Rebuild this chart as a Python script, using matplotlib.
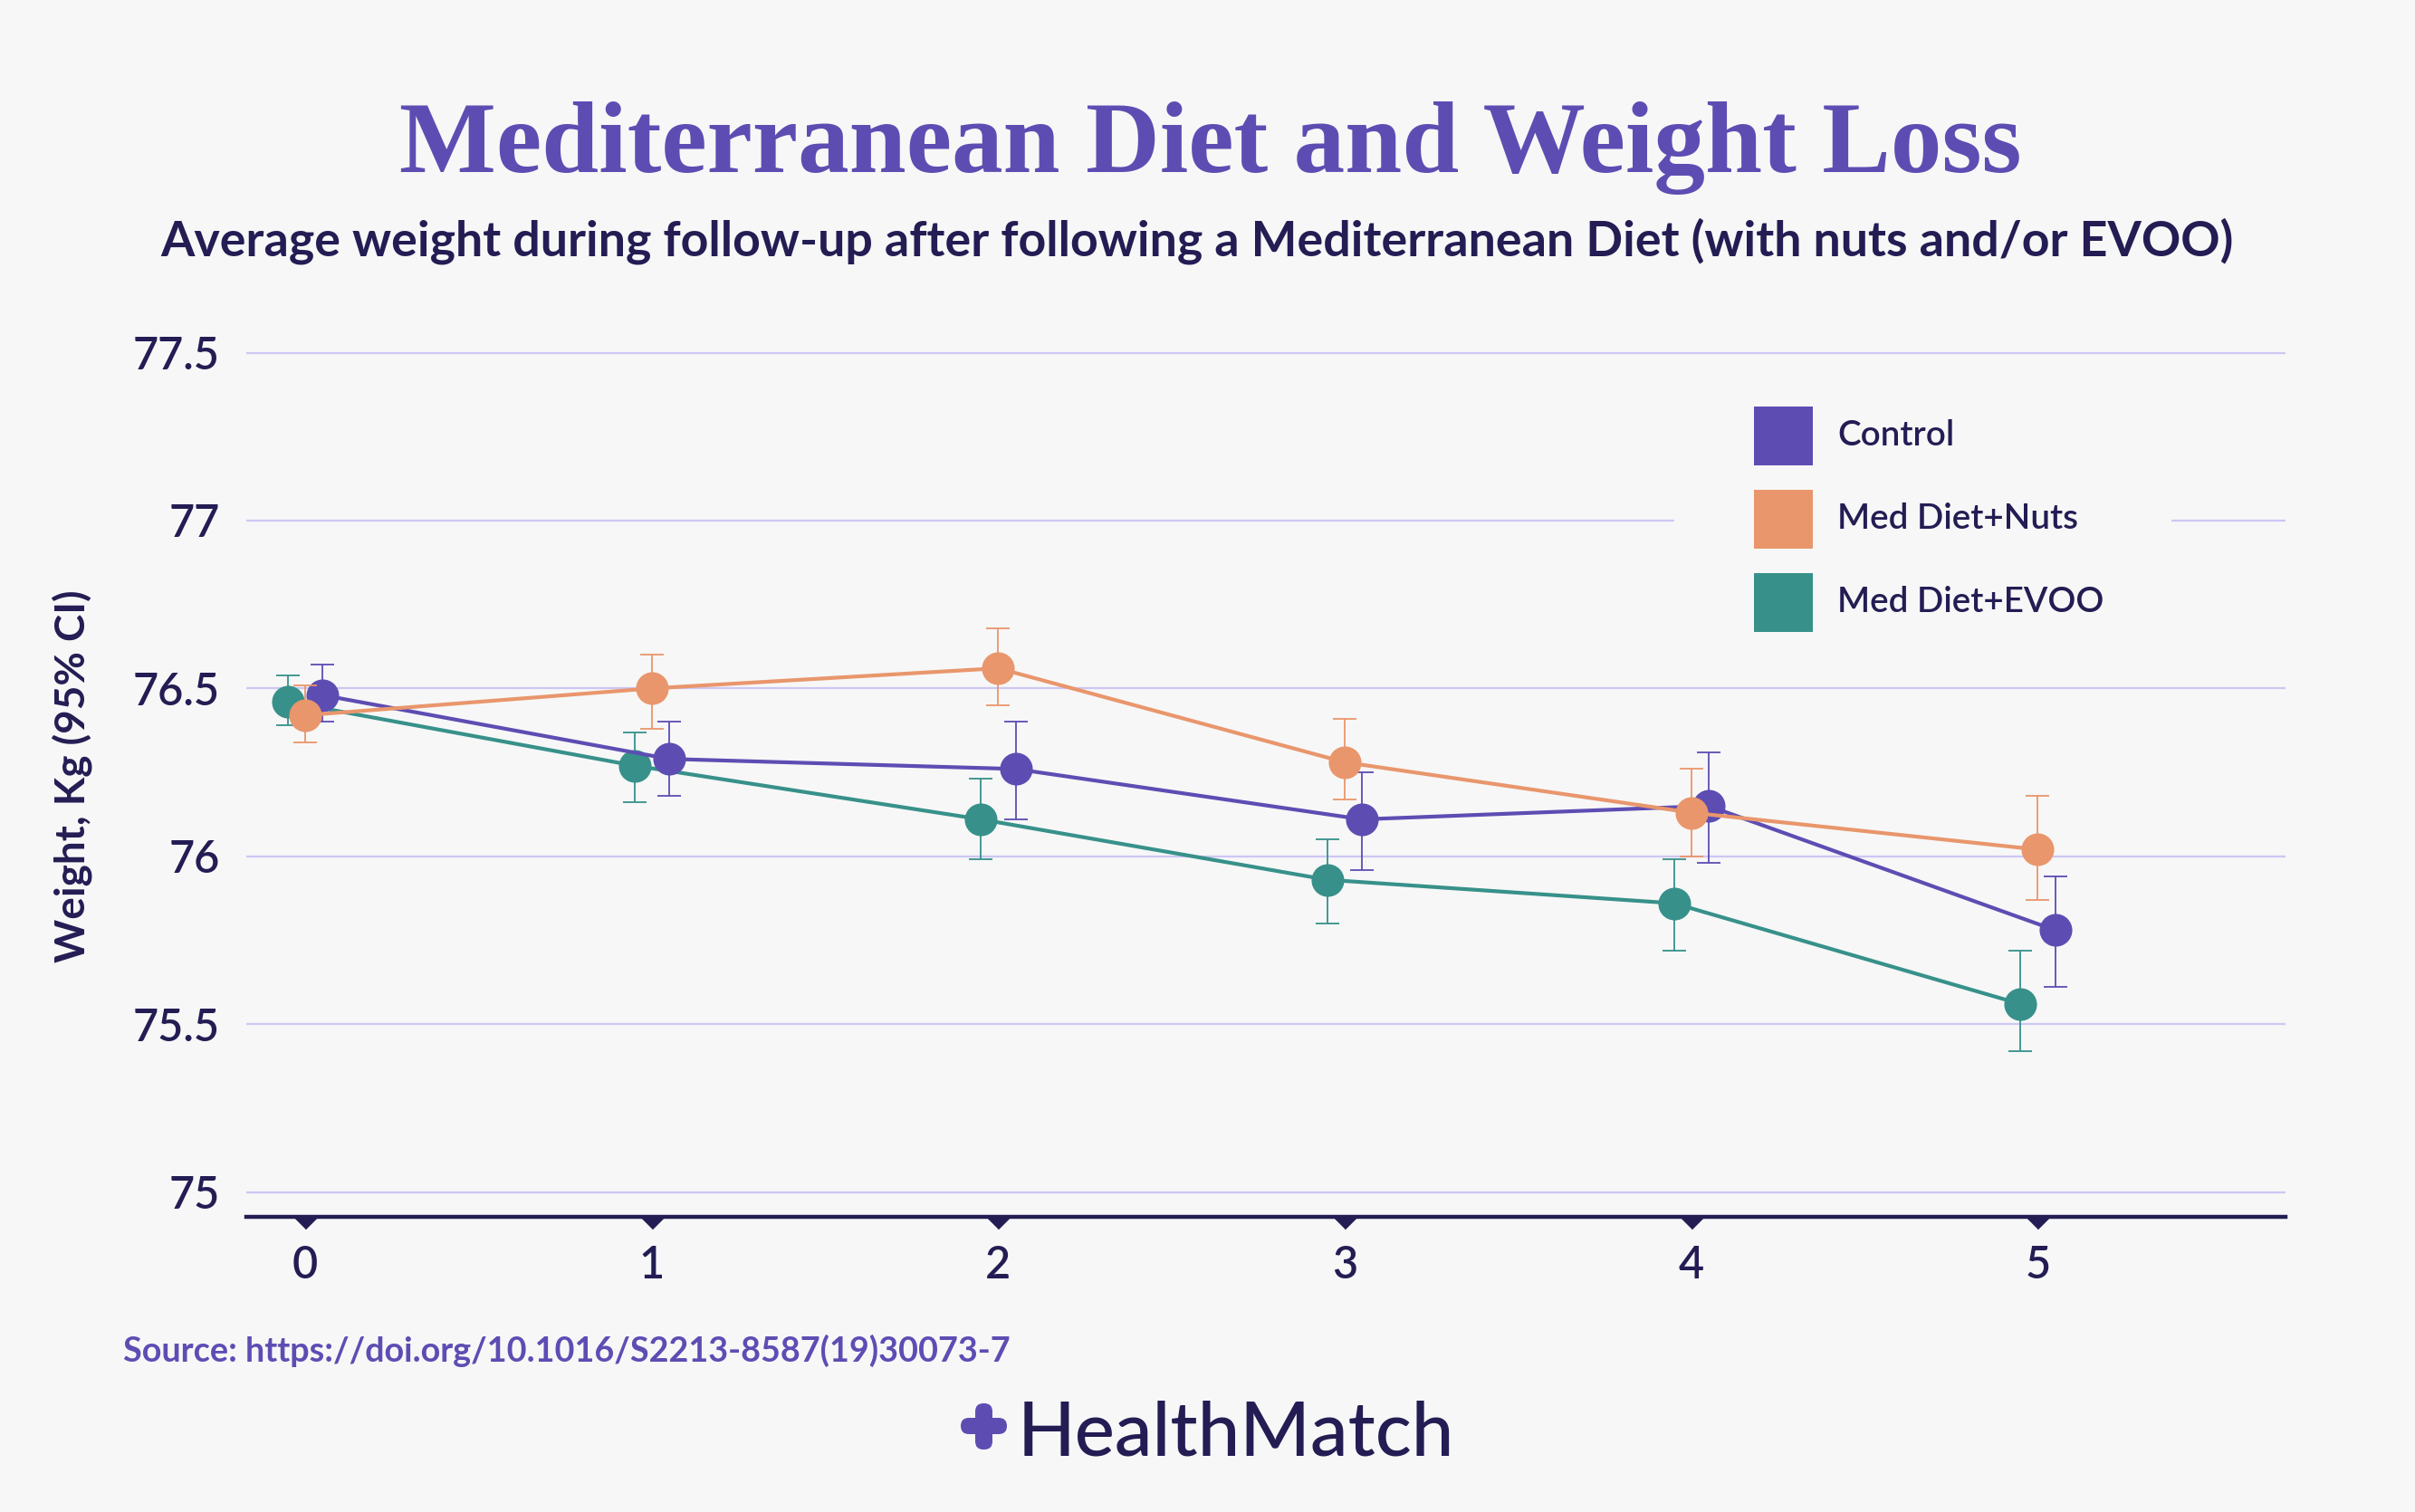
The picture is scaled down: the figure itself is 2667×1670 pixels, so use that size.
import numpy as np
import matplotlib.pyplot as plt
from matplotlib.patches import FancyBboxPatch, Rectangle
from matplotlib.transforms import IdentityTransform, blended_transform_factory

# Data (years of follow-up, weight in kg with 95% CI)
years = [0, 1, 2, 3, 4, 5]
series_names = ['Control', 'Med Diet+Nuts', 'Med Diet+EVOO']

control_mean = [76.48, 76.29, 76.26, 76.11, 76.15, 75.78]
control_lo = [76.40, 76.18, 76.11, 75.96, 75.98, 75.61]
control_hi = [76.57, 76.40, 76.40, 76.25, 76.31, 75.94]

nuts_mean = [76.42, 76.50, 76.56, 76.28, 76.13, 76.02]
nuts_lo = [76.34, 76.38, 76.45, 76.17, 76.00, 75.87]
nuts_hi = [76.51, 76.60, 76.68, 76.41, 76.26, 76.18]

evoo_mean = [76.46, 76.27, 76.11, 75.93, 75.86, 75.56]
evoo_lo = [76.39, 76.16, 75.99, 75.80, 75.72, 75.42]
evoo_hi = [76.54, 76.37, 76.23, 76.05, 75.99, 75.72]

y_ticks = [75, 75.5, 76, 76.5, 77, 77.5]
y_ticklabels = ['75', '75.5', '76', '76.5', '77', '77.5']

# Colours
BG = '#f7f7f7'
NAVY = '#231d54'
PURPLE = '#5d4db3'
ORANGE = '#e9966c'
TEAL = '#37918a'
GRID = '#cdc7f4'
series_colors = [PURPLE, ORANGE, TEAL]

W, H = 2667, 1670
fig = plt.figure(figsize=(W / 100, H / 100), dpi=100, facecolor=BG)

# axes placed in pixel terms
left, right, bottom_px, top_px = 272, 2524, 1344, 371
ax = fig.add_axes([left / W, 1 - bottom_px / H, (right - left) / W, (bottom_px - top_px) / H])
ax.set_facecolor(BG)

groups = [
    (evoo_mean, evoo_lo, evoo_hi, TEAL, -0.05),
    (control_mean, control_lo, control_hi, PURPLE, 0.05),
    (nuts_mean, nuts_lo, nuts_hi, ORANGE, 0.0),
]
for z, (m, lo, hi, col, off) in enumerate(groups):
    m = np.array(m)
    x = np.array(years) + off
    err = [m - np.array(lo), np.array(hi) - m]
    ax.errorbar(x, m, yerr=err, fmt='none', ecolor=col, elinewidth=1.3,
                capsize=9.5, capthick=1.3, zorder=3 + z)
    ax.plot(x, m, color=col, lw=3, marker='o', markersize=26,
            markeredgewidth=0, zorder=3 + z)

ax.set_xlim(-0.17, 5.715)
ax.set_ylim(74.926, 77.55)
ax.set_yticks(y_ticks)
ax.set_yticklabels(y_ticklabels)
ax.set_xticks(years)
ax.grid(axis='y', color=GRID, lw=1.6, zorder=0)
ax.set_axisbelow(True)
for s in ['top', 'right', 'left']:
    ax.spines[s].set_visible(False)
ax.spines['bottom'].set_color(NAVY)
ax.spines['bottom'].set_linewidth(3.2)
ax.tick_params(axis='both', length=0, colors=NAVY)
ax.tick_params(axis='y', pad=21)
ax.tick_params(axis='x', pad=22)
for lab in ax.get_xticklabels() + ax.get_yticklabels():
    lab.set_fontfamily('Lato')
    lab.set_fontsize(35)
    lab.set_fontweight('semibold')

# small triangles under the axis line
tri = blended_transform_factory(ax.transData, ax.transAxes)
ax.plot(years, [0] * len(years), transform=tri, linestyle='none',
        marker=[(-1, 0), (1, 0), (0, -1)], markersize=19, color=NAVY,
        clip_on=False, zorder=6)

ax.text((80 - left) / (right - left), 0.5, 'Weight, Kg (95% CI)', transform=ax.transAxes,
        rotation=90, ha='center', va='center', fontsize=33, fontweight='bold',
        family='Lato', color=NAVY)

# legend: background masks the gridline behind it
fig.patches.append(Rectangle((1849, H - 740), 2398 - 1849, 340, transform=IdentityTransform(),
                             facecolor=BG, edgecolor='none', zorder=1))
legend_rows = [481, 573, 665]
for name, col, yc in zip(series_names, series_colors, legend_rows):
    fig.patches.append(Rectangle((1937, H - yc - 32.5), 65, 65, transform=IdentityTransform(),
                                 facecolor=col, edgecolor='none', zorder=2))
    fig.text(2029 / W, 1 - yc / H, name, ha='left', va='center', family='Lato',
             fontweight='semibold', fontsize=27.8, color=NAVY)

# titles
fig.text(1337 / W, 1 - 190 / H, 'Mediterranean Diet and Weight Loss', ha='center',
         va='baseline', family='Liberation Serif', fontweight='bold', fontsize=81.5,
         color=PURPLE)
fig.text(1322 / W, 1 - 283 / H,
         'Average weight during follow-up after following a Mediterranean Diet (with nuts and/or EVOO)',
         ha='center', va='baseline', family='Lato', fontweight='bold', fontsize=38.7,
         color=NAVY)

fig.text(136 / W, 1 - 1504 / H, 'Source: https://doi.org/10.1016/S2213-8587(19)30073-7',
         ha='left', va='baseline', family='Lato', fontweight='bold', fontsize=27.2,
         color=PURPLE)

# HealthMatch logo
fig.text(1124 / W, 1 - 1607 / H, 'HealthMatch', ha='left', va='baseline',
         family='Lato', fontweight='medium', fontsize=60, color=NAVY)
fig.patches.append(FancyBboxPatch((1077 + 9, H - 1601 + 9), 19 - 18, 51 - 18,
                                  boxstyle='round,pad=9', transform=IdentityTransform(),
                                  facecolor=PURPLE, edgecolor='none'))
fig.patches.append(FancyBboxPatch((1061 + 9, H - 1584 + 9), 51 - 18, 18 - 18,
                                  boxstyle='round,pad=9', transform=IdentityTransform(),
                                  facecolor=PURPLE, edgecolor='none'))

fig.savefig('out.png', dpi=100, facecolor=BG)
